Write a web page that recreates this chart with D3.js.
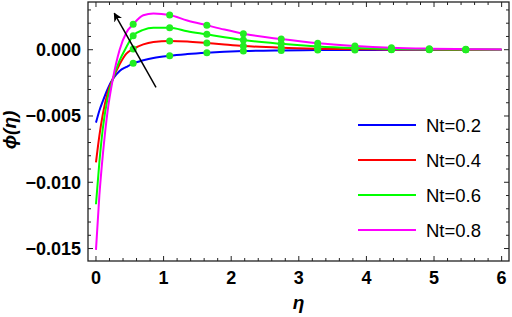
<!DOCTYPE html>
<html>
<head>
<meta charset="utf-8">
<script src="https://cdn.jsdelivr.net/npm/d3@7"></script>
<style>
  body { margin: 0; background: #fff; }
  svg { display: block; }
</style>
</head>
<body>
<div id="chart"></div>
<script>
// data
var eta = [0, 0.05, 0.1, 0.17, 0.25, 0.35, 0.45, 0.55, 0.7, 0.85, 1.09, 1.35, 1.64, 1.9, 2.18, 2.74, 3.28, 3.83, 4.37, 4.93, 5.47, 6];
var phiNt02 = [-0.0055, -0.0046, -0.0039, -0.0030, -0.0022, -0.0016, -0.0013, -0.00103, -0.0008, -0.00062, -0.00045, -0.00033, -0.00023, -0.00016, -0.0001, -0.00005, -0.00003, -0.00002, -0.00001, 0, 0, 0];
var phiNt04 = [-0.0085, -0.0065, -0.0049, -0.0033, -0.0022, -0.0011, -0.0003, 0.00005, 0.0004, 0.00058, 0.00066, 0.00062, 0.0005, 0.00039, 0.00028, 0.00015, 0.00008, 0.00004, 0.00002, 0.00001, 0, 0];
var phiNt06 = [-0.01166, -0.0085, -0.0060, -0.0037, -0.0022, -0.0008, 0.0002, 0.00106, 0.0015, 0.00165, 0.00166, 0.0014, 0.00116, 0.00094, 0.00073, 0.00045, 0.00025, 0.00013, 0.00006, 0.00003, 0.00001, 0];
var phiNt08 = [-0.0151, -0.0110, -0.0080, -0.0047, -0.0022, 0, 0.0013, 0.00192, 0.0026, 0.00274, 0.00262, 0.0022, 0.00184, 0.00152, 0.00121, 0.0008, 0.00048, 0.00028, 0.00015, 0.00008, 0.00004, 0.00002];
var markerEta = [0.55, 1.09, 1.64, 2.18, 2.74, 3.28, 3.83, 4.37, 4.93, 5.47];
var seriesNames = ["Nt=0.2", "Nt=0.4", "Nt=0.6", "Nt=0.8"];
var seriesColors = ["#0000ff", "#ff0000", "#00ff00", "#ff00ff"];
var xTicks = [0, 1, 2, 3, 4, 5, 6];
var yTicks = [0, -0.005, -0.010, -0.015];
var arrowFrom = [0.888, -0.00284], arrowTo = [0.271, 0.00275];

var width = 512, height = 317;
var frame = {left: 88, right: 509, top: 2, bottom: 261};

var svg = d3.select("#chart").append("svg")
    .attr("width", width)
    .attr("height", height);

var x = d3.scaleLinear().domain([-0.118, 6.109]).range([frame.left, frame.right]);
var y = d3.scaleLinear().domain([-0.01594, 0.0036]).range([frame.bottom, frame.top]);

var defs = svg.append("defs");
defs.append("clipPath").attr("id", "clip")
    .append("rect")
    .attr("x", frame.left).attr("y", frame.top)
    .attr("width", frame.right - frame.left)
    .attr("height", frame.bottom - frame.top);
defs.append("marker")
    .attr("id", "head")
    .attr("viewBox", "0 0 10 10")
    .attr("refX", 9).attr("refY", 5)
    .attr("markerWidth", 9).attr("markerHeight", 9)
    .attr("markerUnits", "userSpaceOnUse")
    .attr("orient", "auto")
  .append("path")
    .attr("d", "M0,0 L10,5 L0,10 L3,5 Z")
    .attr("fill", "#000");

// frame ticks (inward, on all four sides)
var xMinor = d3.range(0, 6.01, 0.2);
var yMinor = d3.range(-0.015, 0.0031, 0.001);
var tickColor = "#222";
var ticks = svg.append("g").attr("stroke", tickColor).attr("stroke-width", 1);
xMinor.forEach(function (v) {
    var major = Math.abs(v - Math.round(v)) < 1e-6;
    var len = major ? 5 : 3;
    ticks.append("line").attr("x1", x(v)).attr("x2", x(v)).attr("y1", frame.bottom).attr("y2", frame.bottom - len);
    ticks.append("line").attr("x1", x(v)).attr("x2", x(v)).attr("y1", frame.top).attr("y2", frame.top + len);
});
yMinor.forEach(function (v) {
    var major = Math.abs(v / 0.005 - Math.round(v / 0.005)) < 1e-6;
    var len = major ? 5 : 3;
    ticks.append("line").attr("y1", y(v)).attr("y2", y(v)).attr("x1", frame.left).attr("x2", frame.left + len);
    ticks.append("line").attr("y1", y(v)).attr("y2", y(v)).attr("x1", frame.right).attr("x2", frame.right - len);
});

svg.append("rect")
    .attr("x", frame.left).attr("y", frame.top)
    .attr("width", frame.right - frame.left)
    .attr("height", frame.bottom - frame.top)
    .attr("fill", "none")
    .attr("stroke", tickColor)
    .attr("stroke-width", 1.3);

// tick labels
svg.append("g").selectAll("text")
    .data(xTicks).enter().append("text")
    .attr("x", function (d) { return x(d); })
    .attr("y", 284)
    .attr("text-anchor", "middle")
    .attr("font-family", "Liberation Sans, Arial, sans-serif")
    .attr("font-weight", "bold")
    .attr("font-size", "18px")
    .text(function (d) { return d; });

svg.append("g").selectAll("text")
    .data(yTicks).enter().append("text")
    .attr("x", 81)
    .attr("y", function (d) { return y(d); })
    .attr("dy", "0.36em")
    .attr("text-anchor", "end")
    .attr("font-family", "Liberation Sans, Arial, sans-serif")
    .attr("font-weight", "bold")
    .attr("font-size", "18px")
    .text(function (d) { return d3.format(".3f")(d).replace("-", "\u2212"); });

// axis titles
svg.append("text")
    .attr("transform", "translate(16,130) rotate(-90)")
    .attr("text-anchor", "middle")
    .attr("font-family", "Liberation Sans, Arial, sans-serif")
    .attr("font-weight", "bold")
    .attr("font-style", "italic")
    .attr("font-size", "19px")
    .text("\u03d5(\u03b7)");

svg.append("text")
    .attr("x", (frame.left + frame.right) / 2)
    .attr("y", 309)
    .attr("text-anchor", "middle")
    .attr("font-family", "Liberation Sans, Arial, sans-serif")
    .attr("font-weight", "bold")
    .attr("font-style", "italic")
    .attr("font-size", "19px")
    .text("\u03b7");

// curves
var allSeries = [phiNt02, phiNt04, phiNt06, phiNt08];
var line = d3.line()
    .x(function (d) { return x(d[0]); })
    .y(function (d) { return y(d[1]); })
    .curve(d3.curveMonotoneX);

var plot = svg.append("g").attr("clip-path", "url(#clip)");
allSeries.forEach(function (vals, i) {
    var pts = eta.map(function (e, j) { return [e, vals[j]]; });
    plot.append("path")
        .attr("d", line(pts))
        .attr("fill", "none")
        .attr("stroke", seriesColors[i])
        .attr("stroke-width", 2);
});

// markers on the curves
allSeries.forEach(function (vals) {
    var pts = eta.map(function (e, j) { return [e, vals[j]]; })
        .filter(function (p) { return markerEta.indexOf(p[0]) !== -1; });
    plot.selectAll(null)
        .data(pts).enter().append("circle")
        .attr("cx", function (d) { return x(d[0]); })
        .attr("cy", function (d) { return y(d[1]); })
        .attr("r", 3.5)
        .attr("fill", "#22ee22");
});

// arrow
svg.append("line")
    .attr("x1", x(arrowFrom[0])).attr("y1", y(arrowFrom[1]))
    .attr("x2", x(arrowTo[0])).attr("y2", y(arrowTo[1]))
    .attr("stroke", "#000")
    .attr("stroke-width", 1.5)
    .attr("marker-end", "url(#head)");

// legend
var legend = svg.append("g");
seriesNames.forEach(function (name, i) {
    var ly = 125 + i * 35;
    legend.append("line")
        .attr("x1", 358).attr("x2", 416)
        .attr("y1", ly).attr("y2", ly)
        .attr("stroke", seriesColors[i])
        .attr("stroke-width", 2);
    legend.append("text")
        .attr("x", 426).attr("y", ly)
        .attr("dy", "0.36em")
        .attr("font-family", "Liberation Sans, Arial, sans-serif")
        .attr("font-size", "18.5px")
        .text(name);
});
</script>
</body>
</html>
